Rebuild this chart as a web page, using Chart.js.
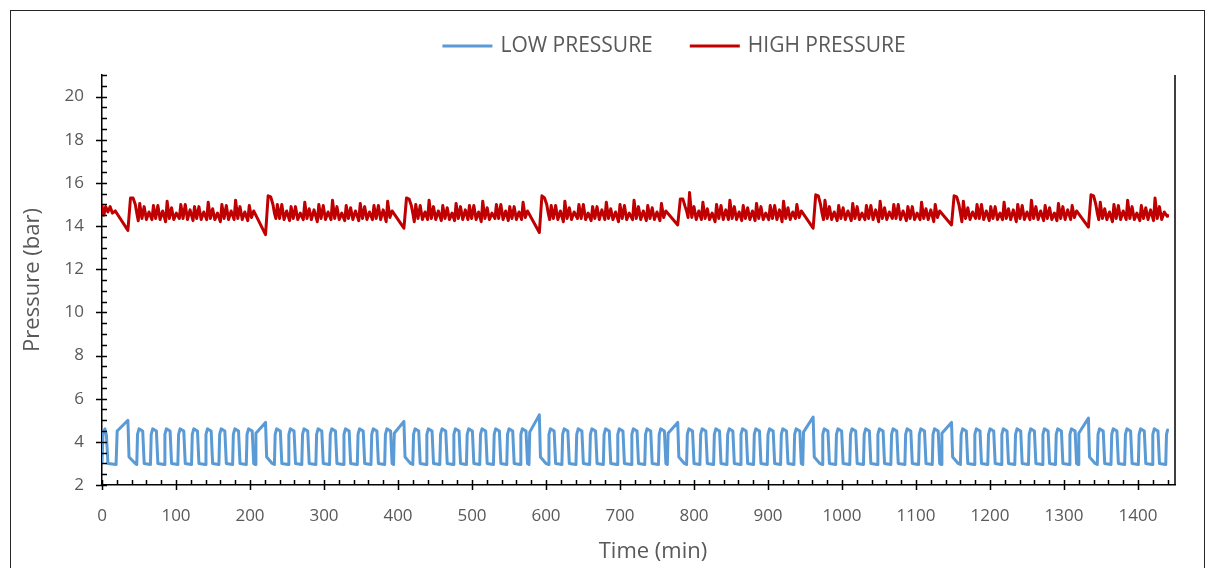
<!DOCTYPE html>
<html>
<head>
<meta charset="utf-8">
<script src="https://cdn.jsdelivr.net/npm/chart.js@4.4.1/dist/chart.umd.min.js"></script>
<style>
  html, body { margin: 0; padding: 0; background: #fff; }
  #wrap { position: relative; width: 1215px; height: 568px; overflow: hidden; }
</style>
</head>
<body>
<div id="wrap"><canvas id="chart" width="1215" height="568"></canvas></div>
<script>
// [time (min), pressure (bar)]
const lowPressure = [
  [0,3.05],[1.5,4.45],[4,4.6],[6,4.3],[8,3.0],[19,2.95],[20.5,4.5],[35,5.0],[36.5,3.3],[45,3.0],
  [47,2.95],[48,4.35],[50,4.6],[55,4.5],[57,3.0],
  [65.5,2.95],[66.5,4.35],[68.5,4.6],[73.5,4.5],[75.5,3.0],
  [84,2.95],[85,4.35],[87,4.6],[92,4.5],[94,3.0],
  [102.5,2.95],[103.5,4.35],[105.5,4.6],[110.5,4.5],[112.5,3.0],
  [121,2.95],[122,4.35],[124,4.6],[129,4.5],[131,3.0],
  [139.5,2.95],[140.5,4.35],[142.5,4.6],[147.5,4.5],[149.5,3.0],
  [158,2.95],[159,4.35],[161,4.6],[166,4.5],[168,3.0],
  [176.5,2.95],[177.5,4.35],[179.5,4.6],[184.5,4.5],[186.5,3.0],
  [195,2.95],[196,4.35],[198,4.6],[203,4.5],[205,3.0],
  [207,2.95],[208,4.4],[221,4.9],[222.5,3.3],[230,3.0],
  [233,2.95],[234,4.35],[236,4.6],[241,4.5],[243,3.0],
  [251.5,2.95],[252.5,4.35],[254.5,4.6],[259.5,4.5],[261.5,3.0],
  [270,2.95],[271,4.35],[273,4.6],[278,4.5],[280,3.0],
  [289,2.95],[290,4.35],[292,4.6],[297,4.5],[299,3.0],
  [307.5,2.95],[308.5,4.35],[310.5,4.6],[315.5,4.5],[317.5,3.0],
  [326,2.95],[327,4.35],[329,4.6],[334,4.5],[336,3.0],
  [345,2.95],[346,4.35],[348,4.6],[353,4.5],[355,3.0],
  [363.5,2.95],[364.5,4.35],[366.5,4.6],[371.5,4.5],[373.5,3.0],
  [382,2.95],[383,4.35],[385,4.6],[390,4.5],[392,3.0],
  [394,2.95],[395,4.4],[408,4.95],[409.5,3.3],[417,3.0],
  [420,2.95],[421,4.35],[423,4.6],[428,4.5],[430,3.0],
  [438,2.95],[439,4.35],[441,4.6],[446,4.5],[448,3.0],
  [456.5,2.95],[457.5,4.35],[459.5,4.6],[464.5,4.5],[466.5,3.0],
  [474.5,2.95],[475.5,4.35],[477.5,4.6],[482.5,4.5],[484.5,3.0],
  [492.5,2.95],[493.5,4.35],[495.5,4.6],[500.5,4.5],[502.5,3.0],
  [510.5,2.95],[511.5,4.35],[513.5,4.6],[518.5,4.5],[520.5,3.0],
  [529,2.95],[530,4.35],[532,4.6],[537,4.5],[539,3.0],
  [547,2.95],[548,4.35],[550,4.6],[555,4.5],[557,3.0],
  [565,2.95],[566,4.35],[568,4.6],[573,4.5],[575,3.0],
  [577,2.95],[578,4.45],[591,5.25],[592.5,3.3],[600,3.0],
  [603,2.95],[604,4.35],[606,4.6],[611,4.5],[613,3.0],
  [621.5,2.95],[622.5,4.35],[624.5,4.6],[629.5,4.5],[631.5,3.0],
  [640.5,2.95],[641.5,4.35],[643.5,4.6],[648.5,4.5],[650.5,3.0],
  [659,2.95],[660,4.35],[662,4.6],[667,4.5],[669,3.0],
  [677.5,2.95],[678.5,4.35],[680.5,4.6],[685.5,4.5],[687.5,3.0],
  [696,2.95],[697,4.35],[699,4.6],[704,4.5],[706,3.0],
  [715,2.95],[716,4.35],[718,4.6],[723,4.5],[725,3.0],
  [733.5,2.95],[734.5,4.35],[736.5,4.6],[741.5,4.5],[743.5,3.0],
  [752,2.95],[753,4.35],[755,4.6],[760,4.5],[762,3.0],
  [764,2.95],[765,4.4],[778,4.9],[779.5,3.3],[787,3.0],
  [790,2.95],[791,4.35],[793,4.6],[798,4.5],[800,3.0],
  [808,2.95],[809,4.35],[811,4.6],[816,4.5],[818,3.0],
  [826.5,2.95],[827.5,4.35],[829.5,4.6],[834.5,4.5],[836.5,3.0],
  [844.5,2.95],[845.5,4.35],[847.5,4.6],[852.5,4.5],[854.5,3.0],
  [862.5,2.95],[863.5,4.35],[865.5,4.6],[870.5,4.5],[872.5,3.0],
  [880.5,2.95],[881.5,4.35],[883.5,4.6],[888.5,4.5],[890.5,3.0],
  [899,2.95],[900,4.35],[902,4.6],[907,4.5],[909,3.0],
  [917,2.95],[918,4.35],[920,4.6],[925,4.5],[927,3.0],
  [935,2.95],[936,4.35],[938,4.6],[943,4.5],[945,3.0],
  [947,2.95],[948,4.45],[961,5.15],[962.5,3.3],[970,3.0],
  [973,2.95],[974,4.35],[976,4.6],[981,4.5],[983,3.0],
  [991.5,2.95],[992.5,4.35],[994.5,4.6],[999.5,4.5],[1001.5,3.0],
  [1010.5,2.95],[1011.5,4.35],[1013.5,4.6],[1018.5,4.5],[1020.5,3.0],
  [1029,2.95],[1030,4.35],[1032,4.6],[1037,4.5],[1039,3.0],
  [1047.5,2.95],[1048.5,4.35],[1050.5,4.6],[1055.5,4.5],[1057.5,3.0],
  [1066,2.95],[1067,4.35],[1069,4.6],[1074,4.5],[1076,3.0],
  [1085,2.95],[1086,4.35],[1088,4.6],[1093,4.5],[1095,3.0],
  [1103.5,2.95],[1104.5,4.35],[1106.5,4.6],[1111.5,4.5],[1113.5,3.0],
  [1122,2.95],[1123,4.35],[1125,4.6],[1130,4.5],[1132,3.0],
  [1134,2.95],[1135,4.4],[1148,4.9],[1149.5,3.3],[1157,3.0],
  [1160,2.95],[1161,4.35],[1163,4.6],[1168,4.5],[1170,3.0],
  [1178.5,2.95],[1179.5,4.35],[1181.5,4.6],[1186.5,4.5],[1188.5,3.0],
  [1197,2.95],[1198,4.35],[1200,4.6],[1205,4.5],[1207,3.0],
  [1215,2.95],[1216,4.35],[1218,4.6],[1223,4.5],[1225,3.0],
  [1233.5,2.95],[1234.5,4.35],[1236.5,4.6],[1241.5,4.5],[1243.5,3.0],
  [1252,2.95],[1253,4.35],[1255,4.6],[1260,4.5],[1262,3.0],
  [1270.5,2.95],[1271.5,4.35],[1273.5,4.6],[1278.5,4.5],[1280.5,3.0],
  [1288.5,2.95],[1289.5,4.35],[1291.5,4.6],[1296.5,4.5],[1298.5,3.0],
  [1307,2.95],[1308,4.35],[1310,4.6],[1315,4.5],[1317,3.0],
  [1319,2.95],[1320,4.4],[1333,5.1],[1334.5,3.3],[1342,3.0],
  [1345,2.95],[1346,4.35],[1348,4.6],[1353,4.5],[1355,3.0],
  [1363.5,2.95],[1364.5,4.35],[1366.5,4.6],[1371.5,4.5],[1373.5,3.0],
  [1382,2.95],[1383,4.35],[1385,4.6],[1390,4.5],[1392,3.0],
  [1400.5,2.95],[1401.5,4.35],[1403.5,4.6],[1408.5,4.5],[1410.5,3.0],
  [1419,2.95],[1420,4.35],[1422,4.6],[1427,4.5],[1429,3.0],
  [1437.5,2.95],[1438.5,4.35],[1440,4.55]
];

const highPressure = [
  [0,14.95],[2.5,14.5],[5,14.9],[8,14.65],[11,14.9],[14,14.6],[18,14.7],[35,13.8],
  [38.5,15.3],[42,15.3],[45,15.0],[47,14.6],
  [49,14.25],[51,15.05],[54,14.35],[57,14.9],[60,14.3],[63.5,14.65],
  [67.5,14.3],[69.5,14.95],[72.5,14.35],[75.5,14.95],[78.5,14.3],[82,14.7],
  [86,14.2],[88,15.15],[91,14.35],[94,14.85],[97,14.3],[100.5,14.6],
  [104.5,14.35],[106.5,15.0],[109.5,14.35],[112.5,15.0],[115.5,14.3],[119,14.75],
  [123,14.25],[125,14.9],[128,14.35],[131,14.9],[134,14.3],[137.5,14.65],
  [141.5,14.3],[143.5,15.1],[146.5,14.35],[149.5,14.8],[152.5,14.3],[156,14.6],
  [160,14.2],[162,15.0],[165,14.35],[168,14.95],[171,14.3],[174.5,14.7],
  [178.5,14.3],[180.5,15.2],[183.5,14.35],[186.5,14.9],[189.5,14.3],[193,14.65],
  [197,14.25],[199,14.95],[202,14.4],[205,14.7],
  [221,13.6],[224.5,15.4],[228,15.35],[231,15.0],[233,14.6],
  [235,14.35],[237,15.0],[240,14.35],[243,15.0],[246,14.3],[249.5,14.7],
  [253.5,14.25],[255.5,14.9],[258.5,14.35],[261.5,14.9],[264.5,14.3],[268,14.6],
  [272,14.3],[274,15.1],[277,14.35],[280,14.8],[283,14.3],[286.5,14.75],
  [291,14.2],[293,15.0],[296,14.35],[299,14.95],[302,14.3],[305.5,14.65],
  [309.5,14.3],[311.5,15.2],[314.5,14.35],[317.5,14.9],[320.5,14.3],[324,14.6],
  [328,14.25],[330,14.95],[333,14.35],[336,14.85],[339,14.3],[342.5,14.7],
  [347,14.25],[349,15.05],[352,14.35],[355,14.9],[358,14.3],[361.5,14.65],
  [365.5,14.3],[367.5,14.95],[370.5,14.35],[373.5,14.95],[376.5,14.3],[380,14.75],
  [384,14.2],[386,15.15],[389,14.4],[392,14.7],
  [408,13.9],[411.5,15.3],[415,15.25],[418,14.95],[420,14.6],
  [422,14.2],[424,15.0],[427,14.35],[430,14.95],[433,14.3],[436.5,14.65],
  [440,14.3],[442,15.2],[445,14.35],[448,14.9],[451,14.3],[454.5,14.7],
  [458.5,14.25],[460.5,14.95],[463.5,14.35],[466.5,14.85],[469.5,14.3],[473,14.6],
  [476.5,14.25],[478.5,15.05],[481.5,14.35],[484.5,14.9],[487.5,14.3],[491,14.75],
  [494.5,14.3],[496.5,14.95],[499.5,14.35],[502.5,14.95],[505.5,14.3],[509,14.65],
  [512.5,14.2],[514.5,15.15],[517.5,14.35],[520.5,14.85],[523.5,14.3],[527,14.6],
  [531,14.35],[533,15.0],[536,14.35],[539,15.0],[542,14.3],[545.5,14.7],
  [549,14.25],[551,14.9],[554,14.35],[557,14.9],[560,14.3],[563.5,14.65],
  [567,14.3],[569,15.1],[572,14.4],[575,14.7],
  [591,13.7],[594.5,15.4],[598,15.3],[601,15.0],[603,14.6],
  [605,14.3],[607,14.95],[610,14.35],[613,14.95],[616,14.3],[619.5,14.7],
  [623.5,14.2],[625.5,15.15],[628.5,14.35],[631.5,14.85],[634.5,14.3],[638,14.65],
  [642.5,14.35],[644.5,15.0],[647.5,14.35],[650.5,15.0],[653.5,14.3],[657,14.6],
  [661,14.25],[663,14.9],[666,14.35],[669,14.9],[672,14.3],[675.5,14.75],
  [679.5,14.3],[681.5,15.1],[684.5,14.35],[687.5,14.8],[690.5,14.3],[694,14.65],
  [698,14.2],[700,15.0],[703,14.35],[706,14.95],[709,14.3],[712.5,14.6],
  [717,14.3],[719,15.2],[722,14.35],[725,14.9],[728,14.3],[731.5,14.7],
  [735.5,14.25],[737.5,14.95],[740.5,14.35],[743.5,14.85],[746.5,14.3],[750,14.65],
  [754,14.25],[756,15.05],[759,14.4],[762,14.7],
  [778,14.05],[781.5,15.25],[785,15.25],[788,14.9],[790,14.7],
  [792,14.4],[794,15.55],[797,14.4],[800,14.9],[803,14.3],[806.5,14.7],
  [810,14.3],[812,15.1],[815,14.35],[818,14.8],[821,14.3],[824.5,14.6],
  [828.5,14.2],[830.5,15.0],[833.5,14.35],[836.5,14.95],[839.5,14.3],[843,14.75],
  [846.5,14.3],[848.5,15.2],[851.5,14.35],[854.5,14.9],[857.5,14.3],[861,14.65],
  [864.5,14.25],[866.5,14.95],[869.5,14.35],[872.5,14.85],[875.5,14.3],[879,14.7],
  [882.5,14.25],[884.5,15.05],[887.5,14.35],[890.5,14.9],[893.5,14.3],[897,14.6],
  [901,14.3],[903,14.95],[906,14.35],[909,14.95],[912,14.3],[915.5,14.75],
  [919,14.2],[921,15.15],[924,14.35],[927,14.85],[930,14.3],[933.5,14.65],
  [937,14.35],[939,15.0],[942,14.4],[945,14.7],
  [961,13.9],[964.5,15.45],[968,15.4],[971,15.0],[973,14.6],
  [975,14.3],[977,15.2],[980,14.35],[983,14.9],[986,14.3],[989.5,14.65],
  [993.5,14.25],[995.5,14.95],[998.5,14.35],[1001.5,14.85],[1004.5,14.3],[1008,14.7],
  [1012.5,14.25],[1014.5,15.05],[1017.5,14.35],[1020.5,14.9],[1023.5,14.3],[1027,14.6],
  [1031,14.3],[1033,14.95],[1036,14.35],[1039,14.95],[1042,14.3],[1045.5,14.75],
  [1049.5,14.2],[1051.5,15.15],[1054.5,14.35],[1057.5,14.85],[1060.5,14.3],[1064,14.65],
  [1068,14.35],[1070,15.0],[1073,14.35],[1076,15.0],[1079,14.3],[1082.5,14.7],
  [1087,14.25],[1089,14.9],[1092,14.35],[1095,14.9],[1098,14.3],[1101.5,14.6],
  [1105.5,14.3],[1107.5,15.1],[1110.5,14.35],[1113.5,14.8],[1116.5,14.3],[1120,14.75],
  [1124,14.2],[1126,15.0],[1129,14.4],[1132,14.7],
  [1148,14.05],[1151.5,15.4],[1155,15.35],[1158,15.0],[1160,14.6],
  [1162,14.2],[1164,15.15],[1167,14.35],[1170,14.85],[1173,14.3],[1176.5,14.65],
  [1180.5,14.35],[1182.5,15.0],[1185.5,14.35],[1188.5,15.0],[1191.5,14.3],[1195,14.7],
  [1199,14.25],[1201,14.9],[1204,14.35],[1207,14.9],[1210,14.3],[1213.5,14.6],
  [1217,14.3],[1219,15.1],[1222,14.35],[1225,14.8],[1228,14.3],[1231.5,14.75],
  [1235.5,14.2],[1237.5,15.0],[1240.5,14.35],[1243.5,14.95],[1246.5,14.3],[1250,14.65],
  [1254,14.3],[1256,15.2],[1259,14.35],[1262,14.9],[1265,14.3],[1268.5,14.7],
  [1272.5,14.25],[1274.5,14.95],[1277.5,14.35],[1280.5,14.85],[1283.5,14.3],[1287,14.6],
  [1290.5,14.25],[1292.5,15.05],[1295.5,14.35],[1298.5,14.9],[1301.5,14.3],[1305,14.75],
  [1309,14.3],[1311,14.95],[1314,14.4],[1317,14.7],
  [1333,13.95],[1336.5,15.45],[1340,15.4],[1343,15.0],[1345,14.6],
  [1347,14.3],[1349,15.1],[1352,14.35],[1355,14.8],[1358,14.3],[1361.5,14.65],
  [1365.5,14.2],[1367.5,15.0],[1370.5,14.35],[1373.5,14.95],[1376.5,14.3],[1380,14.7],
  [1384,14.3],[1386,15.2],[1389,14.35],[1392,14.9],[1395,14.3],[1398.5,14.6],
  [1402.5,14.25],[1404.5,14.95],[1407.5,14.35],[1410.5,14.85],[1413.5,14.3],[1417,14.75],
  [1421,14.25],[1423,15.3],[1426,14.35],[1429,14.9],[1432,14.3],[1435.5,14.65],
  [1439.5,14.45],[1440,14.5]
];

const seriesNames = ["LOW PRESSURE", "HIGH PRESSURE"];
const seriesColors = ["#5B9BD5", "#C00000"];
const xTicks = [0, 100, 200, 300, 400, 500, 600, 700, 800, 900, 1000, 1100, 1200, 1300, 1400];
const yTicks = [2, 4, 6, 8, 10, 12, 14, 16, 18, 20];
const xTitle = "Time (min)";
const yTitle = "Pressure (bar)";

const FONT = "'Open Sans', sans-serif";
const GREY = "#595959";

// Excel-style tick marks: majors cross the axis, minors sit inside
const tickMarks = {
  id: "tickMarks",
  afterDraw(chart) {
    const { ctx, chartArea: a, scales: { x, y } } = chart;
    ctx.save();
    ctx.strokeStyle = "#000";
    ctx.lineWidth = 1.5;
    ctx.beginPath();
    for (let v = x.min; v <= x.max; v += 20) {
      const px = Math.round(x.getPixelForValue(v)) + 0.5;
      const major = v % 100 === 0;
      ctx.moveTo(px, a.bottom - 5);
      ctx.lineTo(px, a.bottom + (major ? 5 : 0));
    }
    for (let v = y.min; v <= y.max + 0.001; v += 0.5) {
      const py = Math.round(y.getPixelForValue(v)) + 0.5;
      const major = v % 2 === 0;
      ctx.moveTo(a.left - (major ? 6 : 0), py);
      ctx.lineTo(a.left + 5, py);
    }
    // right edge of the plot area
    ctx.moveTo(a.right, a.top);
    ctx.lineTo(a.right, a.bottom);
    ctx.stroke();

    // outer chart frame
    ctx.strokeStyle = "#262626";
    ctx.lineWidth = 1;
    ctx.strokeRect(10.5, 10.5, 1194, 600);

    // x axis title (Excel centres it a little right of the plot centre)
    ctx.fillStyle = GREY;
    ctx.font = "22px " + FONT;
    ctx.textAlign = "center";
    ctx.textBaseline = "middle";
    ctx.fillText(xTitle, 653, 552);

    // legend
    ctx.font = "21px " + FONT;
    ctx.textAlign = "left";
    const widths = chart.data.datasets.map(d => 58 + ctx.measureText(d.label).width);
    const gap = 37;
    let lx = 674 - (widths.reduce((s, w) => s + w, 0) + gap) / 2;
    chart.data.datasets.forEach((d, i) => {
      ctx.strokeStyle = d.borderColor;
      ctx.lineWidth = 3;
      ctx.beginPath();
      ctx.moveTo(lx, 46);
      ctx.lineTo(lx + 50, 46);
      ctx.stroke();
      ctx.fillStyle = GREY;
      ctx.fillText(d.label, lx + 58, 46);
      lx += widths[i] + gap;
    });
    ctx.restore();
  }
};

new Chart(document.getElementById("chart"), {
  type: "line",
  data: {
    datasets: [lowPressure, highPressure].map((arr, i) => ({
      label: seriesNames[i],
      data: arr.map(([t, p]) => ({ x: t, y: p })),
      borderColor: seriesColors[i],
      backgroundColor: seriesColors[i],
      borderWidth: 3,
      pointRadius: 0,
      tension: 0,
      borderJoinStyle: "round",
      borderCapStyle: "round"
    }))
  },
  options: {
    responsive: false,
    animation: false,
    devicePixelRatio: 1,
    layout: { padding: { top: 75, left: 12, right: 40, bottom: 0 } },
    plugins: { legend: { display: false }, tooltip: { enabled: false } },
    scales: {
      x: {
        type: "linear",
        min: 0,
        max: 1450,
        afterBuildTicks: s => { s.ticks = xTicks.map(v => ({ value: v })); },
        afterFit: s => { s.height = 83; },
        ticks: { color: GREY, font: { family: FONT, size: 17 }, padding: 15, maxRotation: 0, autoSkip: false, callback: v => String(v) },
        grid: { drawOnChartArea: false, tickLength: 6, color: "transparent", tickColor: "transparent" },
        border: { color: "#000", width: 1.5 },
        title: { display: false }
      },
      y: {
        min: 2,
        max: 21,
        afterBuildTicks: s => { s.ticks = yTicks.map(v => ({ value: v })); },
        afterFit: s => { s.width = 90; },
        ticks: { color: GREY, font: { family: FONT, size: 17 }, padding: 12 },
        grid: { drawOnChartArea: false, tickLength: 6, color: "transparent", tickColor: "transparent" },
        border: { color: "#000", width: 1.5 },
        title: { display: true, text: yTitle, color: GREY, font: { family: FONT, size: 22 }, padding: { top: 8, bottom: 0 } }
      }
    }
  },
  plugins: [tickMarks]
});
</script>
</body>
</html>
